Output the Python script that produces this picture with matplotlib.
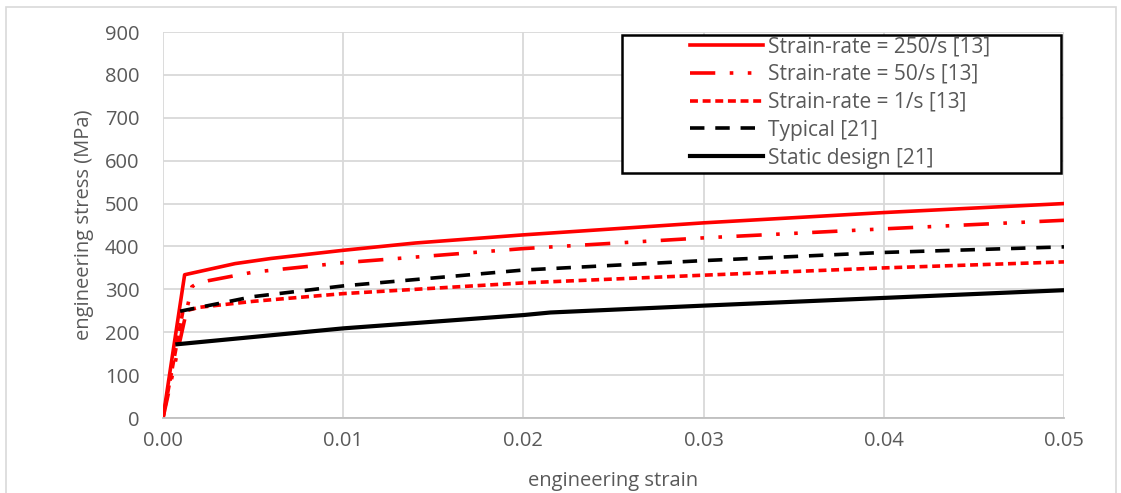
import matplotlib
matplotlib.use("Agg")
import matplotlib.pyplot as plt
from matplotlib.patches import Rectangle

# Data
sr250_x = [0.0, 0.0012, 0.004, 0.006, 0.01, 0.014, 0.02, 0.03, 0.04, 0.05]
sr250_y = [0, 334, 360, 372, 391, 408, 427, 455, 479, 500]

sr50_x = [0.0, 0.0016, 0.0019, 0.0025, 0.005, 0.01, 0.02, 0.03, 0.04, 0.05]
sr50_y = [0, 306, 314, 320, 340, 362, 395, 420, 441, 461]

sr1_x = [0.0, 0.0011, 0.002, 0.005, 0.01, 0.02, 0.03, 0.04, 0.05]
sr1_y = [0, 248, 258, 272, 290, 315, 333, 350, 364]

typ_x = [0.00095, 0.005, 0.01, 0.02, 0.03, 0.04, 0.05]
typ_y = [249, 283, 308, 345, 367, 386, 399]

stat_x = [0.0008, 0.01, 0.02, 0.0215, 0.03, 0.04, 0.05]
stat_y = [172, 209, 240, 246, 262, 280, 298]

labels = ["Strain-rate = 250/s [13]", "Strain-rate = 50/s [13]",
          "Strain-rate = 1/s [13]", "Typical [21]", "Static design [21]"]

xticks = [0, 0.01, 0.02, 0.03, 0.04, 0.05]
xticklabels = ["0.00", "0.01", "0.02", "0.03", "0.04", "0.05"]
yticks = [0, 100, 200, 300, 400, 500, 600, 700, 800, 900]

plt.rcParams['font.family'] = ['Open Sans', 'DejaVu Sans']
W, H = 1121, 493
fig = plt.figure(figsize=(W / 100, H / 100), dpi=100)
ax = fig.add_axes([163 / W, 1 - 418 / H, (1064 - 163) / W, (418 - 32) / H])

red = "#FF0000"
ax.plot(sr250_x, sr250_y, color=red, lw=2.6, label=labels[0], solid_joinstyle='round')
ax.plot(sr50_x, sr50_y, color=red, lw=2.6, label=labels[1], dashes=(7, 4, 1, 4, 1, 4))
ax.plot(sr1_x, sr1_y, color=red, lw=2.6, label=labels[2], dashes=(2.2, 1.3))
ax.plot(typ_x, typ_y, color="black", lw=2.6, label=labels[3], dashes=(4, 3))
ax.plot(stat_x, stat_y, color="black", lw=3.0, label=labels[4])

ax.set_xlim(0, 0.05)
ax.set_ylim(0, 900)
ax.set_xticks(xticks)
ax.set_xticklabels(xticklabels)
ax.set_yticks(yticks)
ax.grid(True, color="#D9D9D9", lw=1.3)
ax.set_axisbelow(True)
for s in ["top", "right", "left"]:
    ax.spines[s].set_visible(False)
ax.spines["bottom"].set_color("#BFBFBF")
ax.spines["bottom"].set_linewidth(1.3)
ax.tick_params(axis="both", length=0, labelsize=14.5, labelcolor="#595959")
ax.tick_params(axis="x", pad=9)
ax.tick_params(axis="y", pad=17)
ax.set_xlabel("engineering strain", fontsize=14.5, color="#595959", labelpad=15)
ax.set_ylabel("engineering stress (MPa)", fontsize=14.5, color="#595959", labelpad=8)

# legend frame (drawn separately to mimic the Excel legend box)
fig.patches.append(Rectangle((622 / W, 1 - 173 / H), (1061 - 622) / W, (173 - 35) / H,
                             transform=fig.transFigure, fill=True, facecolor="white",
                             edgecolor="black", lw=1.8, zorder=3))
leg = fig.legend(*ax.get_legend_handles_labels(), loc="upper left",
                 bbox_to_anchor=(688 / W, 1 - 34 / H), fontsize=15, frameon=False,
                 handlelength=3.5, handletextpad=0.25, borderpad=0.1,
                 labelspacing=0.33, borderaxespad=0)
leg.set_zorder(4)
for t in leg.get_texts():
    t.set_color("#595959")

fig.patches.append(Rectangle((6 / W, -0.05), (1116 - 6) / W, 1.05 - 7 / H,
                             transform=fig.transFigure, fill=False,
                             edgecolor="#D9D9D9", lw=1.2))

fig.savefig("out.png", dpi=100)
